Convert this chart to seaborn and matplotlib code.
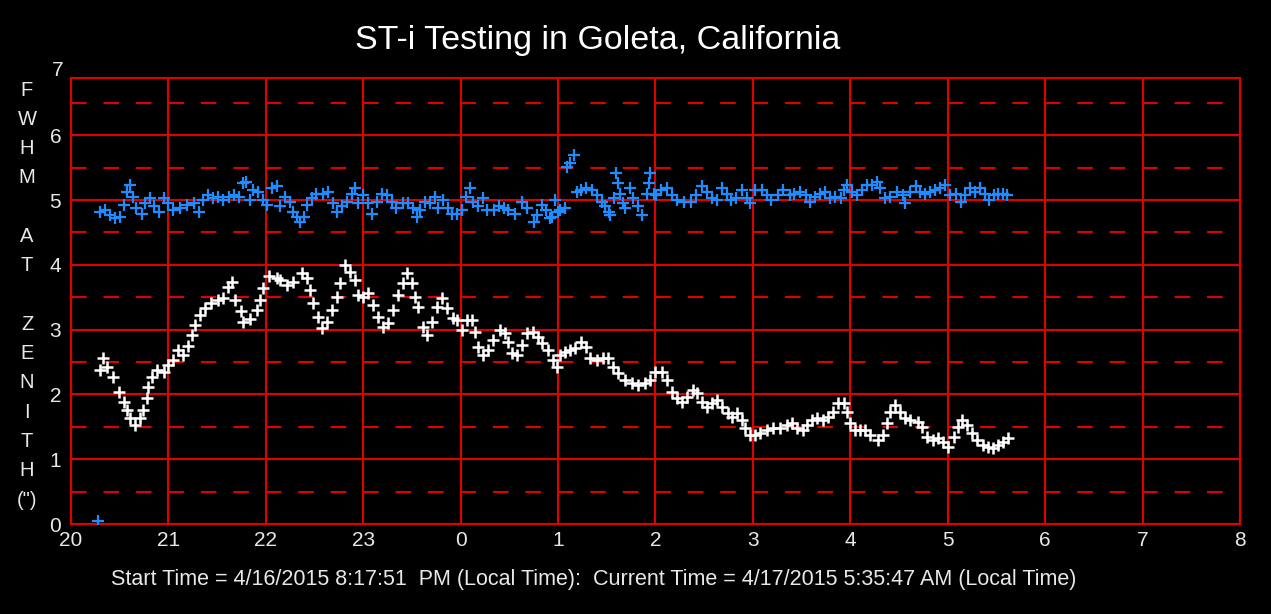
import matplotlib
matplotlib.use("Agg")
import matplotlib.pyplot as plt
import seaborn as sns
import pandas as pd
from matplotlib.ticker import FixedLocator, FixedFormatter

# ---------------- data ----------------
title = "ST-i Testing in Goleta, California"
footer = ("Start Time = 4/16/2015 8:17:51  PM (Local Time):  "
          "Current Time = 4/17/2015 5:35:47 AM (Local Time)")
ylabel_chars = ["F", "W", "H", "M", "", "A", "T", "", "Z", "E", "N", "I", "T", "H", "(\")"]
x_ticks = [20, 21, 22, 23, 24, 25, 26, 27, 28, 29, 30, 31, 32]
x_tick_labels = ["20", "21", "22", "23", "0", "1", "2", "3", "4", "5", "6", "7", "8"]
y_ticks = [0, 1, 2, 3, 4, 5, 6]
y_half = [0.5, 1.5, 2.5, 3.5, 4.5, 5.5, 6.5]

white_t = [20.30, 20.33, 20.37, 20.43, 20.49, 20.54, 20.57, 20.61, 20.66, 20.71, 20.74, 20.78,
           20.79, 20.83, 20.88, 20.95, 21.00, 21.05, 21.10, 21.15, 21.20, 21.24, 21.27, 21.32,
           21.38, 21.44, 21.51, 21.56, 21.61, 21.65, 21.68, 21.75, 21.77, 21.84, 21.91, 21.94,
           21.97, 22.03, 22.11, 22.15, 22.22, 22.28, 22.37, 22.42, 22.45, 22.48, 22.54, 22.58,
           22.63, 22.68, 22.73, 22.76, 22.81, 22.86, 22.92, 22.95, 23.00, 23.05, 23.10, 23.15,
           23.20, 23.25, 23.31, 23.36, 23.41, 23.45, 23.50, 23.53, 23.56, 23.61, 23.65, 23.71,
           23.76, 23.81, 23.86, 23.92, 23.96, 24.01, 24.07, 24.12, 24.15, 24.18, 24.23, 24.28,
           24.33, 24.40, 24.46, 24.49, 24.53, 24.58, 24.63, 24.68, 24.74, 24.79, 24.84, 24.90,
           24.95, 24.99, 25.02, 25.07, 25.12, 25.17, 25.24, 25.29, 25.33, 25.40, 25.46, 25.51,
           25.56, 25.62, 25.69, 25.76, 25.82, 25.89, 25.94, 25.99, 26.07, 26.12, 26.17, 26.22,
           26.27, 26.32, 26.38, 26.43, 26.48, 26.53, 26.58, 26.63, 26.68, 26.74, 26.79, 26.84,
           26.89, 26.92, 26.97, 27.02, 27.07, 27.14, 27.21, 27.28, 27.35, 27.40, 27.45, 27.51,
           27.56, 27.61, 27.66, 27.72, 27.77, 27.82, 27.87, 27.93, 27.97, 28.00, 28.05, 28.10,
           28.15, 28.20, 28.28, 28.34, 28.38, 28.41, 28.46, 28.51, 28.56, 28.61, 28.69, 28.74,
           28.79, 28.85, 28.90, 28.95, 29.00, 29.06, 29.11, 29.15, 29.20, 29.25, 29.30, 29.36,
           29.41, 29.46, 29.52, 29.57, 29.62]
white_fwhm = [2.38, 2.56, 2.43, 2.27, 2.04, 1.89, 1.76, 1.63, 1.53, 1.63, 1.76, 1.94,
              2.12, 2.27, 2.38, 2.35, 2.45, 2.53, 2.69, 2.61, 2.74, 2.92, 3.07, 3.23,
              3.33, 3.41, 3.46, 3.48, 3.66, 3.74, 3.46, 3.28, 3.12, 3.17, 3.30, 3.46,
              3.64, 3.82, 3.79, 3.77, 3.69, 3.73, 3.87, 3.80, 3.61, 3.41, 3.19, 3.02,
              3.12, 3.30, 3.50, 3.72, 4.00, 3.89, 3.77, 3.53, 3.50, 3.56, 3.38, 3.19,
              3.04, 3.10, 3.30, 3.53, 3.72, 3.87, 3.72, 3.50, 3.35, 3.04, 2.92, 3.12,
              3.35, 3.49, 3.33, 3.18, 3.15, 2.99, 3.15, 3.15, 2.96, 2.73, 2.61, 2.69,
              2.84, 2.99, 2.95, 2.81, 2.64, 2.61, 2.76, 2.95, 2.96, 2.89, 2.79, 2.69,
              2.53, 2.42, 2.61, 2.65, 2.69, 2.72, 2.81, 2.73, 2.56, 2.53, 2.56, 2.56,
              2.42, 2.33, 2.22, 2.18, 2.14, 2.18, 2.22, 2.35, 2.35, 2.22, 2.04, 1.94,
              1.88, 1.96, 2.07, 2.02, 1.88, 1.81, 1.87, 1.91, 1.81, 1.71, 1.65, 1.71,
              1.60, 1.48, 1.37, 1.37, 1.40, 1.45, 1.48, 1.48, 1.53, 1.56, 1.48, 1.45,
              1.53, 1.60, 1.64, 1.60, 1.65, 1.73, 1.87, 1.87, 1.73, 1.56, 1.45, 1.45,
              1.45, 1.37, 1.30, 1.37, 1.56, 1.73, 1.84, 1.73, 1.64, 1.60, 1.57, 1.50,
              1.34, 1.30, 1.33, 1.27, 1.19, 1.34, 1.50, 1.60, 1.53, 1.40, 1.30, 1.22,
              1.19, 1.17, 1.22, 1.27, 1.33]

blue_t = [20.28, 20.30, 20.35, 20.40, 20.45, 20.50, 20.54, 20.57, 20.61, 20.64, 20.67, 20.73,
          20.76, 20.81, 20.85, 20.90, 20.95, 21.00, 21.05, 21.12, 21.19, 21.26, 21.31, 21.36,
          21.41, 21.46, 21.51, 21.56, 21.62, 21.67, 21.72, 21.77, 21.80, 21.84, 21.87, 21.92,
          21.97, 22.01, 22.06, 22.11, 22.15, 22.20, 22.25, 22.28, 22.32, 22.35, 22.39, 22.42,
          22.47, 22.52, 22.59, 22.64, 22.69, 22.73, 22.78, 22.83, 22.88, 22.92, 22.95, 23.00,
          23.05, 23.09, 23.14, 23.19, 23.24, 23.29, 23.34, 23.41, 23.46, 23.51, 23.55, 23.58,
          23.63, 23.69, 23.74, 23.77, 23.82, 23.87, 23.91, 23.96, 24.01, 24.05, 24.10, 24.13,
          24.18, 24.23, 24.27, 24.34, 24.39, 24.44, 24.49, 24.56, 24.63, 24.68, 24.75, 24.78,
          24.83, 24.88, 24.92, 24.94, 24.97, 25.00, 25.02, 25.07, 25.09, 25.12, 25.16, 25.19,
          25.24, 25.29, 25.35, 25.40, 25.45, 25.48, 25.52, 25.53, 25.57, 25.59, 25.62, 25.64,
          25.67, 25.69, 25.74, 25.77, 25.82, 25.86, 25.91, 25.93, 25.94, 25.98, 26.01, 26.06,
          26.12, 26.17, 26.22, 26.29, 26.36, 26.42, 26.48, 26.53, 26.58, 26.63, 26.68, 26.73,
          26.78, 26.83, 26.89, 26.94, 26.97, 27.02, 27.09, 27.14, 27.19, 27.26, 27.31, 27.38,
          27.42, 27.48, 27.54, 27.59, 27.64, 27.69, 27.74, 27.79, 27.84, 27.90, 27.93, 27.97,
          28.02, 28.07, 28.12, 28.17, 28.22, 28.27, 28.30, 28.36, 28.41, 28.48, 28.54, 28.56,
          28.61, 28.67, 28.72, 28.77, 28.82, 28.87, 28.92, 28.97, 29.02, 29.08, 29.14, 29.18,
          29.23, 29.28, 29.33, 29.38, 29.42, 29.47, 29.52, 29.57, 29.61]
blue_fwhm = [0.05, 4.82, 4.85, 4.77, 4.72, 4.74, 4.92, 5.13, 5.23, 5.05, 4.87, 4.79,
             4.95, 5.03, 4.90, 4.82, 5.03, 4.95, 4.85, 4.87, 4.92, 4.95, 4.82, 5.00,
             5.08, 5.03, 5.05, 5.00, 5.05, 5.08, 5.05, 5.26, 5.28, 5.00, 5.15, 5.13,
             5.00, 4.92, 5.18, 5.21, 4.90, 5.05, 4.97, 4.82, 4.74, 4.66, 4.74, 4.92,
             5.03, 5.10, 5.10, 5.13, 4.95, 4.82, 4.90, 4.97, 5.10, 5.18, 4.95, 5.08,
             4.95, 4.79, 4.97, 5.10, 5.08, 4.97, 4.87, 4.95, 4.95, 4.87, 4.74, 4.85,
             4.97, 4.95, 5.05, 4.87, 5.00, 4.87, 4.79, 4.79, 4.85, 5.05, 5.18, 4.97,
             4.90, 5.03, 4.85, 4.85, 4.90, 4.87, 4.85, 4.79, 4.97, 4.87, 4.66, 4.77,
             4.92, 4.85, 4.72, 4.74, 5.00, 4.82, 4.85, 4.87, 5.51, 5.57, 5.69, 5.13,
             5.15, 5.18, 5.15, 5.08, 4.97, 4.90, 4.82, 4.77, 5.03, 5.41, 5.26, 5.10,
             4.95, 4.87, 5.18, 5.03, 4.90, 4.77, 5.10, 5.26, 5.41, 5.10, 5.08, 5.15,
             5.18, 5.08, 5.00, 4.97, 4.97, 5.08, 5.21, 5.13, 5.03, 5.00, 5.18, 5.10,
             5.00, 5.03, 5.15, 5.03, 4.95, 5.15, 5.15, 5.08, 5.00, 5.08, 5.15, 5.08,
             5.10, 5.13, 5.08, 4.97, 5.05, 5.10, 5.13, 5.03, 5.05, 5.03, 5.15, 5.23,
             5.13, 5.08, 5.15, 5.23, 5.23, 5.28, 5.18, 5.03, 5.05, 5.13, 5.08, 4.95,
             5.13, 5.21, 5.13, 5.10, 5.13, 5.15, 5.18, 5.23, 5.08, 5.10, 4.97, 5.08,
             5.18, 5.13, 5.18, 5.10, 5.00, 5.08, 5.10, 5.10, 5.08]

# ---------------- style ----------------
RED = "#E00000"
TXT = "#E8E8E8"
sns.set_style("dark", {"axes.facecolor": "black", "figure.facecolor": "black"})
plt.rcParams["font.family"] = ["Liberation Sans", "DejaVu Sans"]
plt.rcParams["lines.scale_dashes"] = False

fig = plt.figure(figsize=(12.71, 6.14), dpi=100)
fig.patch.set_facecolor("black")
W, H = 1271, 614
left, right, top, bottom = 71, 1240, 78, 524
ax = fig.add_axes([left / W, 1 - bottom / H, (right - left) / W, (bottom - top) / H])
ax.set_facecolor("black")

df_white = pd.DataFrame({"t": white_t, "fwhm": white_fwhm})
df_blue = pd.DataFrame({"t": blue_t, "fwhm": blue_fwhm})

sns.scatterplot(data=df_blue, x="t", y="fwhm", marker="+", s=65, linewidth=1.6,
                color="#1E8CFF", ax=ax, zorder=3, legend=False)
sns.scatterplot(data=df_white, x="t", y="fwhm", marker="+", s=65, linewidth=1.8,
                color="white", ax=ax, zorder=4, legend=False)

ax.set_xlim(20, 32)
ax.set_ylim(0, (bottom - top) / 64.8)
ax.xaxis.set_major_locator(FixedLocator(x_ticks))
ax.xaxis.set_major_formatter(FixedFormatter(x_tick_labels))
ax.yaxis.set_major_locator(FixedLocator(y_ticks))
ax.yaxis.set_minor_locator(FixedLocator(y_half))
ax.tick_params(axis="both", which="both", length=0, colors=TXT, labelsize=15)
ax.tick_params(axis="x", pad=5)
ax.tick_params(axis="y", pad=7)
ax.set_axisbelow(True)
ax.grid(which="major", color=RED, linewidth=1.5, linestyle="-")
ax.grid(which="minor", axis="y", color=RED, linewidth=1.5, linestyle=(0, (11.2, 12.17)))
for sp in ax.spines.values():
    sp.set_color(RED)
    sp.set_linewidth(1.5)
    sp.set_visible(True)
ax.set_xlabel("")
ax.set_ylabel("")
# the "7" label sits above the plot frame
ax.text(-0.0065, 7, "7", transform=ax.get_yaxis_transform(), ha="right", va="center",
        color=TXT, fontsize=15, clip_on=False)

fig.text(598 / W, 1 - 40 / H, title, ha="center", va="center", color="white", fontsize=24.5)
for i, ch in enumerate(ylabel_chars):
    if ch:
        fig.text(27 / W, 1 - (90 + i * 29.3) / H, ch, ha="center", va="center",
                 color=TXT, fontsize=14.5)
fig.text(594 / W, 1 - 580 / H, footer, ha="center", va="center", color=TXT, fontsize=15.5)

fig.savefig("out.png", dpi=100, facecolor="black")
